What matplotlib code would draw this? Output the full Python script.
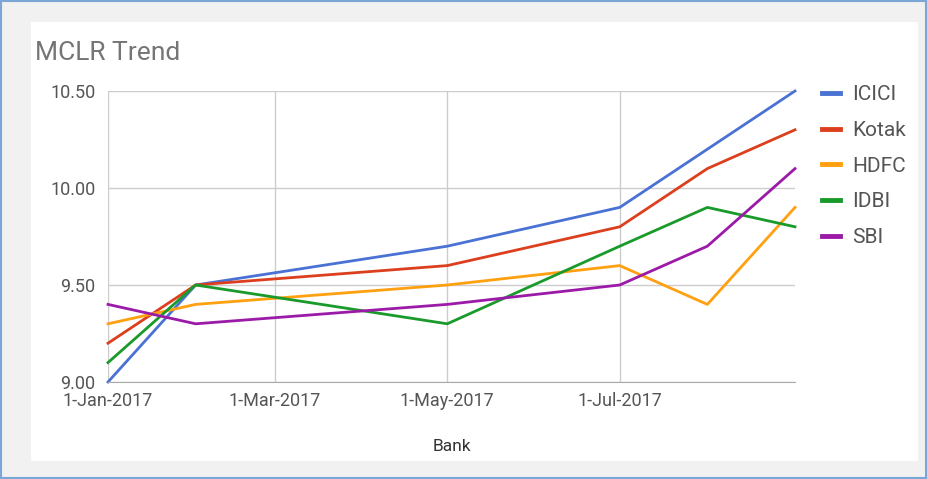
# MCLR trend line chart, Google-Charts look.
import matplotlib
matplotlib.use('Agg')
import matplotlib.pyplot as plt
import matplotlib.patches as mpatches
import numpy as np

plt.rcParams['font.family'] = ['Roboto', 'DejaVu Sans']

DATES = np.array(['2017-01-01', '2017-02-01', '2017-05-01',
                  '2017-07-01', '2017-08-01', '2017-09-01'], dtype='datetime64[D]')
BANKS = ["ICICI", "Kotak", "HDFC", "IDBI", "SBI"]
ICICI = [9.0, 9.5, 9.7, 9.9, 10.2, 10.5]
KOTAK = [9.2, 9.5, 9.6, 9.8, 10.1, 10.3]
HDFC = [9.3, 9.4, 9.5, 9.6, 9.4, 9.9]
IDBI = [9.1, 9.5, 9.3, 9.7, 9.9, 9.8]
SBI = [9.4, 9.3, 9.4, 9.5, 9.7, 10.1]
SERIES = [ICICI, KOTAK, HDFC, IDBI, SBI]
COLORS = ["#4a72d4", "#dc3f1e", "#ffa010", "#1a9a2a", "#9b1aa8"]

TICK_DATES = np.array(['2017-01-01', '2017-03-01', '2017-05-01', '2017-07-01'],
                      dtype='datetime64[D]')
TICK_LABELS = ["1-Jan-2017", "1-Mar-2017", "1-May-2017", "1-Jul-2017"]
Y_TICKS = [9.0, 9.5, 10.0, 10.5]

TEXT = "#555555"
GRID = "#cccccc"

fig = plt.figure(figsize=(9.28, 4.79), dpi=100, facecolor="#f1f1f1")
# outer blue frame and white card, kept behind the axes
fig.patches.append(mpatches.Rectangle((31 / 928, 1 - 461 / 479), 887 / 928, 439 / 479,
                                      transform=fig.transFigure, facecolor="white",
                                      edgecolor="none", zorder=-2))
fig.patches.append(mpatches.Rectangle((0.001, 0.002), 0.997, 0.995, transform=fig.transFigure,
                                      fill=False, edgecolor="#7aa7d8", linewidth=1.5,
                                      zorder=-1))

ax = fig.add_axes([108 / 928, 1 - 382 / 479, 687 / 928, 291 / 479])
ax.set_facecolor("none")
x = DATES.astype('datetime64[ms]').astype(object)
for name, vals, col in zip(BANKS, SERIES, COLORS):
    ax.plot(x, vals, color=col, linewidth=2, label=name, clip_on=False)

ax.set_xlim(x[0], x[-1])
ax.set_ylim(9.0, 10.5)
ax.set_yticks(Y_TICKS)
ax.set_yticklabels([f"{v:.2f}" for v in Y_TICKS])
ax.set_xticks(TICK_DATES.astype('datetime64[ms]').astype(object))
ax.set_xticklabels(TICK_LABELS)
ax.grid(True, color=GRID, linewidth=1)
ax.set_axisbelow(True)
for s in ["top", "right", "left"]:
    ax.spines[s].set_visible(False)
ax.spines["bottom"].set_color("#aaaaaa")
ax.tick_params(length=0, labelsize=13, labelcolor=TEXT)
ax.tick_params(axis='y', pad=9)
ax.tick_params(axis='x', pad=7)

ax.set_xlabel("Bank", fontsize=12.5, color="#333333", labelpad=21)
fig.text(35 / 928, 1 - 53 / 479, "MCLR Trend", fontsize=19, color="#757575",
         va='center', ha='left')

ax.legend(loc="upper left", bbox_to_anchor=(814 / 928, 1 - 77 / 479),
          bbox_transform=fig.transFigure, frameon=False, fontsize=15,
          borderaxespad=0, handlelength=0.87, handletextpad=0.58,
          labelspacing=0.8, labelcolor=TEXT)
for h in ax.get_legend().legend_handles:
    h.set_linewidth(3.5)

fig.savefig("out.png", dpi=100, facecolor=fig.get_facecolor())
